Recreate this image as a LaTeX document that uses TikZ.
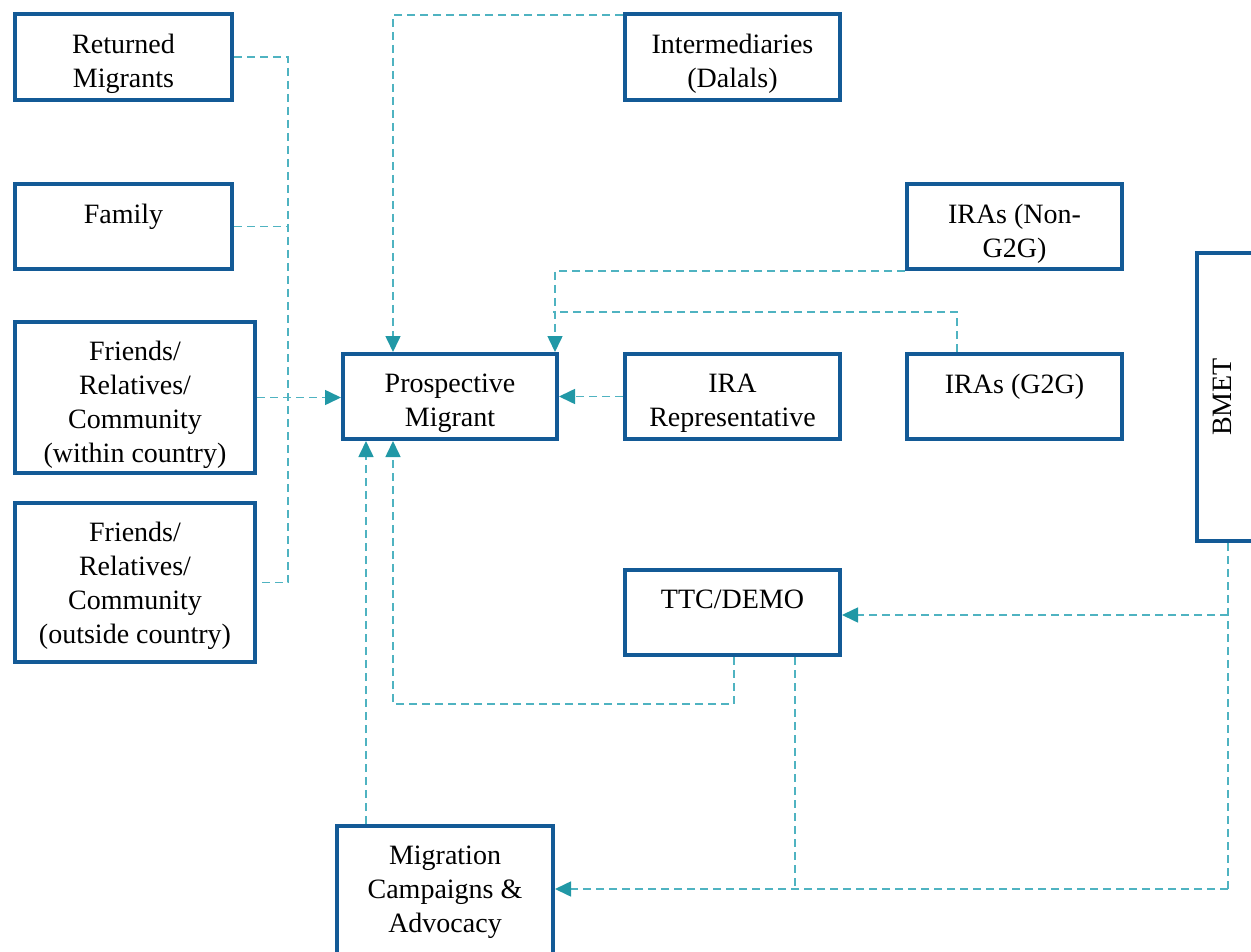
\documentclass[tikz,border=0pt]{standalone}
\usepackage{fontspec}
\setmainfont{Liberation Serif}
\usetikzlibrary{arrows.meta}
\definecolor{boxc}{HTML}{135A96}
\definecolor{linec}{HTML}{4FB3C1}
\definecolor{tipc}{HTML}{2198A6}
\begin{document}
\begin{tikzpicture}[x=1pt,y=-1pt,
 box/.style={draw=boxc, line width=4pt, rectangle, inner sep=0pt, fill=white},
 txt/.style={anchor=north, align=center, inner sep=0pt, font=\fontsize{28}{34}\selectfont},
 conn/.style={draw=linec, line width=1.6pt, dash pattern=on 8pt off 5pt},
 arr/.style={conn, -{Triangle[length=16pt,width=15pt,color=tipc]}}]
\useasboundingbox (0,0) rectangle (1251,952);

% boxes
\node[box, minimum width=217pt, minimum height=86pt] (rm) at (123.5,57) {};
\node[txt] (rmt) at ([yshift=-22pt]rm.north) {Returned\\Migrants};
\node[box, minimum width=217pt, minimum height=85pt] (fam) at (123.5,226.5) {};
\node[txt] (famt) at ([yshift=-22pt]fam.north) {Family};
\node[box, minimum width=240pt, minimum height=151pt] (fw) at (135,397.5) {};
\node[txt] (fwt) at ([yshift=-21pt]fw.north) {Friends/\\Relatives/\\Community\\(within country)};
\node[box, minimum width=240pt, minimum height=159pt] (fo) at (135,582.5) {};
\node[txt] (fot) at ([yshift=-21pt]fo.north) {Friends/\\Relatives/\\Community\\(outside country)};
\node[box, minimum width=214pt, minimum height=85pt] (pm) at (450,396.5) {};
\node[txt] (pmt) at ([yshift=-22pt]pm.north) {Prospective\\Migrant};
\node[box, minimum width=215pt, minimum height=86pt] (int) at (732.5,57) {};
\node[txt] (intt) at ([yshift=-22pt]int.north) {Intermediaries\\(Dalals)};
\node[box, minimum width=215pt, minimum height=85pt] (ng) at (1014.5,226.5) {};
\node[txt] (ngt) at ([yshift=-22pt]ng.north) {IRAs (Non-\\G2G)};
\node[box, minimum width=215pt, minimum height=85pt] (rep) at (732.5,396.5) {};
\node[txt] (rept) at ([yshift=-22pt]rep.north) {IRA\\Representative};
\node[box, minimum width=215pt, minimum height=85pt] (g2g) at (1014.5,396.5) {};
\node[txt] (g2gt) at ([yshift=-22pt]g2g.north) {IRAs (G2G)};
\node[box, minimum width=56pt, minimum height=288pt] (bm) at (1225,397) {};
\node[inner sep=0pt, rotate=90, font=\fontsize{28}{34}\selectfont] (bmt) at (1222,397) {BMET};
\node[box, minimum width=215pt, minimum height=85pt] (ttc) at (732.5,612.5) {};
\node[txt] (ttct) at ([yshift=-22pt]ttc.north) {TTC/DEMO};
\node[box, minimum width=216pt, minimum height=200pt] (mc) at (445,926) {};
\node[txt] (mct) at ([yshift=-22pt]mc.north) {Migration\\Campaigns \&\\Advocacy};

% left bus
\coordinate (bus1) at (288,57);
\coordinate (bus2) at (288,226.5);
\draw[conn] (rm.east) -- (bus1) |- (fo.east);
\draw[conn] (fam.east) -- (bus2);
\draw[arr] (fw.east) -- (fw.east -| pm.west);

% intermediaries
\coordinate (pmtop) at ([xshift=-57pt]pm.north);
\draw[arr] ([yshift=-3pt]int.north west) -| (pmtop);

% IRAs
\coordinate (pmtr) at ([xshift=-4pt]pm.north east);
\draw[arr] (ng.south west) -| (pmtr);
\coordinate (g2gup) at ([xshift=-57.5pt]g2g.north);
\coordinate (jn) at (553,312);
\draw[conn] (g2gup) |- (jn);
\draw[arr] (rep.west) -- (rep.west -| pm.east);

% TTC to PM
\coordinate (pmbot) at ([xshift=-57pt]pm.south);
\coordinate (tb) at (pmbot |- 0,704);
\draw[arr] ([xshift=1.5pt]ttc.south) |- (tb) -- (pmbot);

% campaigns to PM
\coordinate (mcu) at ([xshift=-79pt]mc.north);
\draw[arr] (mcu) -- (mcu |- pm.south);

% BMET
\coordinate (bb) at ([xshift=3pt]bm.south);
\coordinate (mcin) at ([yshift=37pt]mc.east);
\coordinate (bj) at (bb |- mcin);
\draw[conn] (bb) -- (bj);
\draw[arr] (bj) -- (mcin);
\draw[arr] (bb |- 0,615) -- (bb |- 0,615 -| ttc.east);
\coordinate (ttcb) at ([xshift=62.5pt]ttc.south);
\draw[conn] (ttcb) -- (ttcb |- mcin);
\end{tikzpicture}
\end{document}
